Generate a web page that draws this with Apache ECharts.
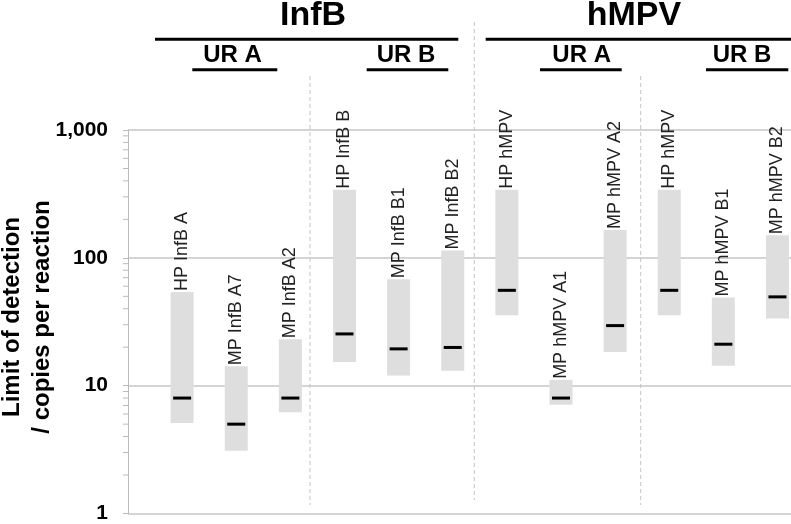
<!DOCTYPE html>
<html>
<head>
<meta charset="utf-8">
<script src="https://cdn.jsdelivr.net/npm/echarts@6/dist/echarts.min.js"></script>
<style>
html,body{margin:0;padding:0;background:#fff;}
#chart{width:791px;height:524px;}
</style>
</head>
<body>
<div id="chart"></div>
<script>
// ---- data ----
const categories = ['HP InfB A','MP InfB A7','MP InfB A2','HP InfB B','MP InfB B1','MP InfB B2',
                    'HP hMPV','MP hMPV A1','MP hMPV A2','HP hMPV','MP hMPV B1','MP hMPV B2'];
const lowValues    = [5.1, 3.1, 6.2, 15.3, 12.0, 13.1, 35.6, 7.1, 18.3, 35.6, 14.3, 33.6];
const highValues   = [54, 14.2, 23.1, 341, 68, 114, 341, 11.1, 165, 341, 49, 150];
const medianValues = [8.0, 5.0, 8.0, 25.4, 19.4, 19.9, 55.7, 8.0, 29.5, 55.7, 21.1, 49.5];
const yTickValues  = [1, 10, 100, 1000];
const minorTickValues = [2,3,4,5,6,7,8,9,20,30,40,50,60,70,80,90,200,300,400,500,600,700,800,900];
const virusGroups = ['InfB', 'hMPV'];
const regionGroups = ['UR A', 'UR B', 'UR A', 'UR B'];

const chart = echarts.init(document.getElementById('chart'), null, {renderer: 'canvas'});

const rangeData = categories.map((c, i) => [i + 1, lowValues[i], highValues[i], medianValues[i]]);

function renderRange(params, api) {
  const x = api.value(0);
  const top = api.coord([x, api.value(2)]);
  const bot = api.coord([x, api.value(1)]);
  const med = api.coord([x, api.value(3)]);
  const w = 23;
  return {
    type: 'group',
    children: [
      {type: 'rect', shape: {x: top[0] - w / 2, y: top[1], width: w, height: bot[1] - top[1]},
       style: {fill: '#dedede'}},
      {type: 'rect', shape: {x: med[0] - 9, y: med[1] - 1.5, width: 18, height: 3},
       style: {fill: '#000'}},
      {type: 'text', x: top[0], y: top[1] - 1, rotation: Math.PI / 2,
       style: {text: categories[params.dataIndex], align: 'left', verticalAlign: 'middle',
               font: '18px "Liberation Sans", Arial, sans-serif', fill: '#222'}}
    ]
  };
}

function renderMinorTick(params, api) {
  const p = api.coord([0, api.value(1)]);
  return {type: 'line', shape: {x1: p[0] - 5, y1: p[1], x2: p[0], y2: p[1]},
          style: {stroke: '#bbbbbb', lineWidth: 1}};
}

const hdrFont = 'bold 34px "Liberation Sans", Arial, sans-serif';
const subFont = 'bold 24px "Liberation Sans", Arial, sans-serif';
function hline(x1, x2, y) {
  return {type: 'line', shape: {x1: x1, y1: y, x2: x2, y2: y}, style: {stroke: '#000', lineWidth: 3}};
}
function vdash(x, y1, y2) {
  return {type: 'line', shape: {x1: x, y1: y1, x2: x, y2: y2},
          style: {stroke: '#c4c4c4', lineWidth: 1, lineDash: [4, 3]}};
}
function label(text, x, y, font) {
  return {type: 'text', x: x, y: y, style: {text: text, font: font, fill: '#000', align: 'center', verticalAlign: 'middle'}};
}

const option = {
  animation: false,
  backgroundColor: '#fff',
  grid: {left: 128, right: 0, top: 130, bottom: 7, containLabel: false},
  xAxis: {type: 'value', min: 0, max: 12.25, show: false, splitLine: {show: false}},
  yAxis: {
    type: 'log', logBase: 10, min: 1, max: 1000,
    axisLine: {show: true, lineStyle: {color: '#bbbbbb', width: 1}},
    axisTick: {show: true, length: 5, lineStyle: {color: '#bbbbbb'}},
    splitLine: {show: true, lineStyle: {color: '#c6c6c6', width: 1.5}},
    axisLabel: {
      margin: 20, color: '#000', fontWeight: 'bold', fontSize: 21,
      fontFamily: '"Liberation Sans", Arial, sans-serif',
      formatter: function (v) {
        const t = yTickValues.find(k => Math.abs(k - v) < 1e-6 * k);
        return String(t !== undefined ? t : v).replace(/\B(?=(\d{3})+(?!\d))/g, ',');
      }
    }
  },
  graphic: [
    vdash(310, 76, 505), vdash(474.3, 22, 500), vdash(640.7, 76, 505),
    label(virusGroups[0], 313, 16, hdrFont), label(virusGroups[1], 634, 16, hdrFont),
    hline(155, 458.3, 39.3), hline(485.7, 791, 39.3),
    label(regionGroups[0], 232.5, 55, subFont), label(regionGroups[1], 406, 55, subFont),
    label(regionGroups[2], 581.7, 55, subFont), label(regionGroups[3], 742, 55, subFont),
    hline(192.3, 277.3, 69.7), hline(366.7, 448.3, 69.7),
    hline(540, 621.7, 69.7), hline(706, 788.3, 69.7),
    {type: 'text', x: 27, y: 317, rotation: Math.PI / 2,
     style: {text: 'Limit of detection\n/ copies per reaction', font: 'bold 24px "Liberation Sans", Arial, sans-serif',
             lineHeight: 30, fill: '#000', align: 'center', verticalAlign: 'middle'}}
  ],
  series: [
    {type: 'custom', renderItem: renderMinorTick, clip: false, silent: true,
     data: minorTickValues.map(v => [0, v])},
    {type: 'custom', renderItem: renderRange, clip: false, data: rangeData,
     encode: {x: 0, y: [1, 2, 3]}}
  ]
};
chart.setOption(option);
</script>
</body>
</html>
